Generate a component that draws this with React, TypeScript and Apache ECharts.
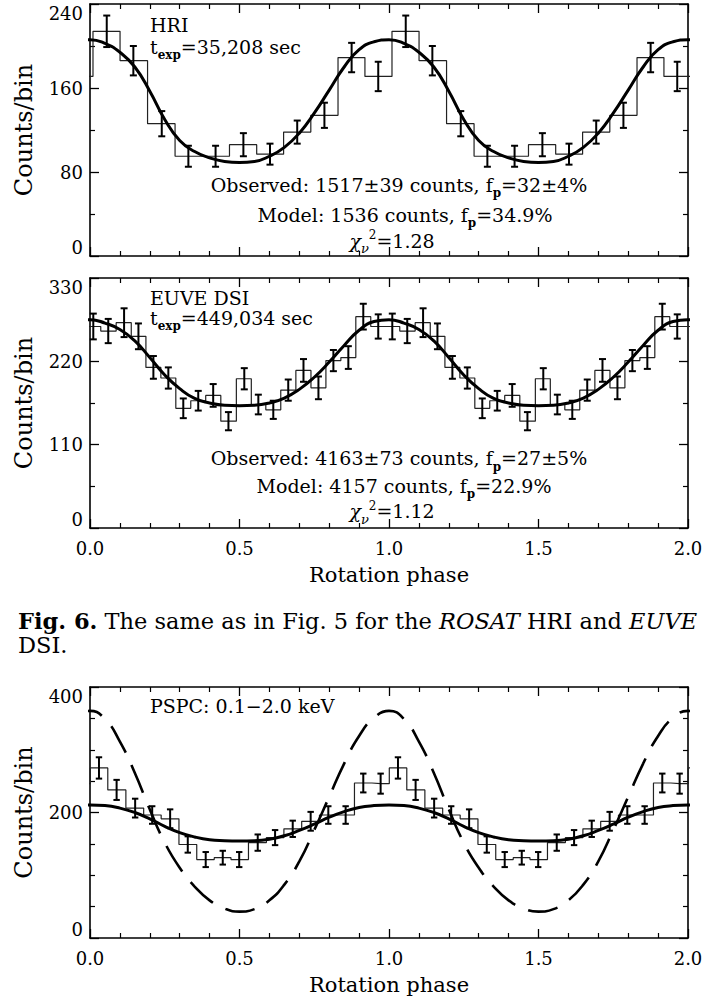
import React, { useEffect, useRef } from "react";
import * as echarts from "echarts";

// ---------------- data ----------------
// ROSAT HRI, one rotation (phases of bin centres), repeated for the second rotation
const hriPhase = [0.056, 0.145, 0.24, 0.329, 0.42, 0.513, 0.602, 0.693, 0.784, 0.875, 0.964];
const hriCounts = [214, 186, 126, 95, 95, 106, 97, 118, 134, 189, 171];
const hriErr = [15, 14, 12, 10, 10, 11, 10, 11, 12, 14, 14];
const hriModelPhase = [0, 0.05, 0.1, 0.15, 0.2, 0.25, 0.3, 0.35, 0.4, 0.45, 0.5, 0.55, 0.6, 0.65, 0.7, 0.75, 0.8, 0.85, 0.9, 0.95];
const hriModel = [206, 202.5, 194, 180, 157, 130, 110, 99.5, 93.5, 90, 89, 90, 95, 103.5, 117, 136, 158, 180, 196.5, 204];

// EUVE DSI
const euvePhase = [0.011, 0.061, 0.114, 0.162, 0.212, 0.262, 0.312, 0.362, 0.412, 0.463, 0.516, 0.563, 0.613, 0.663, 0.714, 0.764, 0.814, 0.864, 0.914, 0.964];
const euveCounts = [266, 260, 271, 253, 212, 198, 158, 168, 175, 141, 197, 163, 156, 182, 208, 185, 221, 225, 279, 266];
const euveErr = [17, 16, 19, 17, 15, 14, 13, 13, 15, 12, 14, 13, 12, 14, 15, 15, 14, 15, 17, 16];
const euveModelPhase = [0, 0.05, 0.1, 0.15, 0.2, 0.25, 0.3, 0.35, 0.4, 0.45, 0.5, 0.55, 0.6, 0.65, 0.7, 0.75, 0.8, 0.85, 0.9, 0.95];
const euveModel = [275, 270.5, 262, 247, 225, 202, 184, 171, 165, 162, 161.5, 162, 165, 171.5, 183, 199, 219, 241, 261, 272.5];

// ROSAT PSPC 0.1-2.0 keV
const pspcPhase = [0.03, 0.089, 0.151, 0.208, 0.268, 0.327, 0.387, 0.444, 0.499, 0.561, 0.619, 0.678, 0.738, 0.797, 0.855, 0.914, 0.972];
const pspcCounts = [271, 236, 207, 196, 190, 149, 125, 128, 125, 152, 160, 174, 186, 196, 196, 247, 246];
const pspcErr = [17, 16, 15, 14, 15, 13, 12, 11, 12, 13, 12, 13, 15, 14, 14, 15, 16];
const pspcModelPhase = [0, 0.05, 0.1, 0.15, 0.2, 0.25, 0.3, 0.35, 0.4, 0.45, 0.5, 0.55, 0.6, 0.65, 0.7, 0.75, 0.8, 0.85, 0.9, 0.95];
const pspcModelFit = [212, 211, 207, 200, 190, 178, 168, 161, 156.5, 155, 154.5, 155, 157.5, 163, 171.5, 181.5, 192.5, 201.5, 208, 211];
const pspcModelAlt = [362, 349, 313, 263, 205, 152, 112, 82, 60, 47, 42, 46, 60, 85, 122, 172, 225, 278, 322, 351];

// axes
const phaseTicks = [0, 0.5, 1, 1.5, 2];
const hriTicks = [0, 80, 160, 240];
const euveTicks = [0, 110, 220, 330];
const pspcTicks = [0, 200, 400];

const FONT = "'DejaVu Serif', serif";

// ---------------- helpers ----------------
function histPoints(phase: number[], counts: number[]) {
  const n = phase.length;
  const pts: number[][] = [[phase[n - 1] - 1, counts[n - 1]]];
  for (const c of [0, 1]) for (let i = 0; i < n; i++) pts.push([phase[i] + c, counts[i]]);
  pts.push([phase[0] + 2, counts[0]]);
  return pts;
}
function errPoints(phase: number[], counts: number[], err: number[]) {
  const pts: number[][] = [];
  for (const c of [0, 1]) for (let i = 0; i < phase.length; i++) pts.push([phase[i] + c, counts[i], err[i]]);
  return pts;
}
function modelPoints(phase: number[], vals: number[]) {
  const n = phase.length;
  const pts: number[][] = [[phase[n - 1] - 1, vals[n - 1]]];
  for (const c of [0, 1]) for (let i = 0; i < n; i++) pts.push([phase[i] + c, vals[i]]);
  pts.push([2, vals[0]]);
  pts.push([phase[1] + 2, vals[1]]);
  return pts;
}

function xAxes(g: number, labels: boolean) {
  const common = {
    type: "value",
    gridIndex: g,
    min: phaseTicks[0],
    max: phaseTicks[phaseTicks.length - 1],
    interval: phaseTicks[1] - phaseTicks[0],
    axisLine: { show: true, onZero: false, lineStyle: { color: "#000", width: 1.6 } },
    axisTick: { show: true, inside: true, length: 9, lineStyle: { color: "#000", width: 1.3 } },
    minorTick: { show: true, splitNumber: 5, length: 5, lineStyle: { color: "#000", width: 1.2 } },
    splitLine: { show: false },
    minorSplitLine: { show: false },
  };
  return [
    {
      ...common,
      position: "bottom",
      axisLabel: {
        show: labels,
        margin: 11,
        fontFamily: FONT,
        fontSize: 18,
        color: "#000",
        formatter: (v: number) => v.toFixed(1),
      },
      name: labels ? "Rotation phase" : "",
      nameLocation: "middle",
      nameGap: 36,
      nameTextStyle: { fontFamily: FONT, fontSize: 21, color: "#000" },
    },
    { ...common, position: "top", axisLabel: { show: false } },
  ];
}

function yAxes(g: number, ticks: number[], minorSplit: number) {
  const common = {
    type: "value",
    gridIndex: g,
    min: ticks[0],
    max: ticks[ticks.length - 1],
    interval: ticks[1] - ticks[0],
    axisLine: { show: true, onZero: false, lineStyle: { color: "#000", width: 1.6 } },
    axisTick: { show: true, inside: true, length: 9, lineStyle: { color: "#000", width: 1.3 } },
    minorTick: { show: true, splitNumber: minorSplit, length: 5, lineStyle: { color: "#000", width: 1.2 } },
    splitLine: { show: false },
    minorSplitLine: { show: false },
  };
  return [
    {
      ...common,
      position: "left",
      axisLabel: {
        show: true,
        margin: 7,
        fontFamily: FONT,
        fontSize: 18,
        color: "#000",
        verticalAlignMinLabel: "bottom",
        verticalAlignMaxLabel: "top",
      },
      name: "Counts/bin",
      nameLocation: "middle",
      nameRotate: 90,
      nameGap: 54,
      nameTextStyle: { fontFamily: FONT, fontSize: 24, color: "#000" },
    },
    { ...common, position: "right", axisLabel: { show: false } },
  ];
}

function errorRender(cap: number, width: number) {
  return (params: any, api: any) => {
    const x = api.value(0);
    const y = api.value(1);
    const e = api.value(2);
    const t = api.coord([x, y + e]);
    const b = api.coord([x, y - e]);
    const st = { stroke: "#000", lineWidth: width };
    return {
      type: "group",
      children: [
        { type: "line", shape: { x1: t[0], y1: t[1], x2: b[0], y2: b[1] }, style: st },
        { type: "line", shape: { x1: t[0] - cap, y1: t[1], x2: t[0] + cap, y2: t[1] }, style: st },
        { type: "line", shape: { x1: b[0] - cap, y1: b[1], x2: b[0] + cap, y2: b[1] }, style: st },
      ],
    };
  };
}

function panelSeries(g: number, phase: number[], counts: number[], err: number[], cap: number) {
  return [
    {
      type: "line",
      xAxisIndex: 2 * g,
      yAxisIndex: 2 * g,
      data: histPoints(phase, counts),
      step: "middle",
      symbol: "none",
      showSymbol: false,
      clip: true,
      silent: true,
      lineStyle: { color: "#222", width: 1.2 },
      z: 2,
    },
    {
      type: "custom",
      xAxisIndex: 2 * g,
      yAxisIndex: 2 * g,
      data: errPoints(phase, counts, err),
      encode: { x: 0, y: 1 },
      renderItem: errorRender(cap, 2),
      silent: true,
      z: 4,
    },
  ];
}

function modelSeries(g: number, phase: number[], vals: number[], dashed = false) {
  return {
    type: "line",
    xAxisIndex: 2 * g,
    yAxisIndex: 2 * g,
    data: modelPoints(phase, vals),
    smooth: 0.5,
    symbol: "none",
    showSymbol: false,
    clip: true,
    silent: true,
    lineStyle: dashed
      ? { color: "#000", width: 2.6, type: [30, 14], cap: "butt" }
      : { color: "#000", width: 3 },
    z: 3,
  };
}

// all in-plot text lines: baseline = top + 18.6
const rich = {
  a: { fontFamily: FONT, fontSize: 19, lineHeight: 20, verticalAlign: "top", padding: [2, 0, 0, 0], color: "#000" },
  s: { fontFamily: FONT, fontSize: 12, fontWeight: "bold", lineHeight: 10, verticalAlign: "top", padding: [14, 0, 0, 0], color: "#000" },
  g: { fontFamily: FONT, fontSize: 19, fontStyle: "italic", lineHeight: 20, verticalAlign: "top", padding: [2, 0, 0, 0], color: "#000" },
  n: { fontFamily: FONT, fontSize: 13, fontStyle: "italic", lineHeight: 12, verticalAlign: "top", padding: [13, 0, 0, 0], color: "#000" },
  u: { fontFamily: FONT, fontSize: 12, lineHeight: 12, verticalAlign: "top", padding: [0, 0, 0, 0], color: "#000" },
};

function label(x: number, baseline: number, text: string, align = "left") {
  return {
    type: "text",
    x,
    y: baseline - 18.6,
    silent: true,
    style: {
      text,
      rich,
      fill: "#000",
      fontFamily: FONT,
      fontSize: 19,
      align,
      verticalAlign: "top",
      textAlign: align,
      textVerticalAlign: "top",
    },
  };
}

const captionRich = {
  b: { fontFamily: FONT, fontSize: 22.5, fontWeight: "bold", color: "#000" },
  r: { fontFamily: FONT, fontSize: 22.5, color: "#000" },
  i: { fontFamily: FONT, fontSize: 22.5, fontStyle: "italic", color: "#000" },
};

function caption(x: number, y: number, text: string) {
  return {
    type: "text",
    x,
    y,
    silent: true,
    style: {
      text,
      rich: captionRich,
      fill: "#000",
      fontFamily: FONT,
      fontSize: 22.5,
      align: "left",
      verticalAlign: "middle",
      textAlign: "left",
      textVerticalAlign: "middle",
    },
  };
}

export default function App() {
  const ref = useRef<HTMLDivElement>(null);

  useEffect(() => {
    if (!ref.current) return;
    const chart = echarts.init(ref.current, null, { renderer: "svg" });
    const option: any = {
      animation: false,
      backgroundColor: "#fff",
      grid: [
        { left: 90, width: 598, top: 4, height: 252, outerBoundsMode: "none" },
        { left: 90, width: 598, top: 278, height: 250, outerBoundsMode: "none" },
        { left: 90, width: 598, top: 687, height: 251, outerBoundsMode: "none" },
      ],
      xAxis: [...xAxes(0, false), ...xAxes(1, true), ...xAxes(2, true)],
      yAxis: [...yAxes(0, hriTicks, 2), ...yAxes(1, euveTicks, 2), ...yAxes(2, pspcTicks, 4)],
      series: [
        ...panelSeries(0, hriPhase, hriCounts, hriErr, 3.5),
        modelSeries(0, hriModelPhase, hriModel),
        ...panelSeries(1, euvePhase, euveCounts, euveErr, 3.5),
        modelSeries(1, euveModelPhase, euveModel),
        ...panelSeries(2, pspcPhase, pspcCounts, pspcErr, 3.2),
        modelSeries(2, pspcModelPhase, pspcModelFit),
        modelSeries(2, pspcModelPhase, pspcModelAlt, true),
      ],
      graphic: [
        label(150, 31.7, "{a|HRI}"),
        label(150, 54, "{a|t}{s|exp}{a|=35,208 sec}"),
        label(399, 192, "{a|Observed: 1517±39 counts, f}{s|p}{a|=32±4%}", "center"),
        label(405, 221.7, "{a|Model: 1536 counts, f}{s|p}{a|=34.9%}", "center"),
        label(392, 248, "{g|χ}{n|ν}{u|2}{a|=1.28}", "center"),
        label(150, 305, "{a|EUVE DSI}"),
        label(150, 325, "{a|t}{s|exp}{a|=449,034 sec}"),
        label(399, 465.5, "{a|Observed: 4163±73 counts, f}{s|p}{a|=27±5%}", "center"),
        label(404, 493, "{a|Model: 4157 counts, f}{s|p}{a|=22.9%}", "center"),
        label(392, 518.5, "{g|χ}{n|ν}{u|2}{a|=1.12}", "center"),
        label(150, 713.3, "{a|PSPC: 0.1−2.0 keV}"),
        caption(18, 621, "{b|Fig. 6.}{r| The same as in Fig. 5 for the }{i|ROSAT}{r| HRI and }{i|EUVE}"),
        caption(18, 645, "{r|DSI.}"),
      ],
    };
    chart.setOption(option);
    return () => chart.dispose();
  }, []);

  return (
    <div
      ref={ref}
      style={{ position: "absolute", left: 0, top: 0, width: 718, height: 996, background: "#fff" }}
    />
  );
}
